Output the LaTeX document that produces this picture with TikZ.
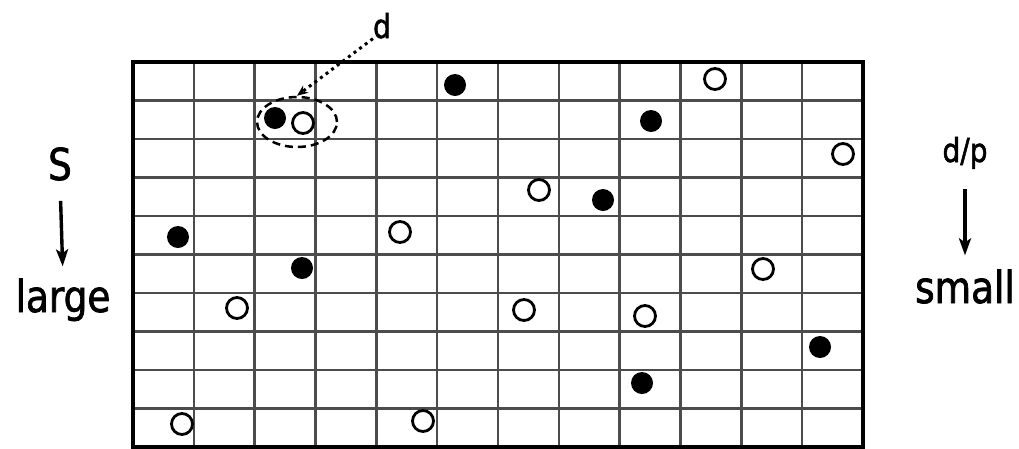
\documentclass[tikz,border=0pt]{standalone}
\usepackage{fontspec}
\usepackage{tikz}
\usetikzlibrary{shapes.geometric, arrows.meta, positioning}
\newfontfamily\lblfont[FakeStretch=0.85, FakeBold=1.6]{DejaVu Sans}
\tikzset{
  gridline/.style={draw=black!70, line width=2.6pt},
  border/.style={draw=black, line width=3.2pt},
  fulldot/.style={circle, fill=black, minimum size=22pt, inner sep=0pt},
  opendot/.style={circle, draw=black, line width=2.8pt, fill=white, minimum size=21pt, inner sep=0pt},
  lbl/.style={font=\lblfont\fontsize{44}{48}\selectfont, inner sep=0pt},
  smalllbl/.style={font=\lblfont\fontsize{33}{36}\selectfont, inner sep=0pt},
  downarrow/.style={-{Stealth[length=17pt,width=12pt,inset=4pt]}, line width=3.4pt},
}

\begin{document}
\begin{tikzpicture}[x=1pt, y=-1pt]
  \useasboundingbox (0,0) rectangle (1019,448);

  % grid of cells
  \foreach \i in {0,...,12}
    \draw[gridline] ({133+\i*60.833},62) -- ({133+\i*60.833},447);
  \foreach \j in {0,...,10}
    \draw[gridline] (133,{62+\j*38.5}) -- (863,{62+\j*38.5});
  \draw[border] (133,62) rectangle (863,447);

  % particles
  \foreach \px/\py [count=\k] in {455/85, 275/118, 651/121, 603/200, 178/237, 302/268, 820/347, 642/383}
    \node[fulldot] (full\k) at (\px,\py) {};
  \foreach \px/\py [count=\k] in {303/123, 715/79, 843/154, 539/190, 400/232, 763/269, 237/308, 524/310, 645/316, 182/424, 423/421}
    \node[opendot] (open\k) at (\px,\py) {};

  % close pair
  \node[ellipse, draw, line width=2.5pt, dash pattern=on 8pt off 5pt, minimum width=80pt, minimum height=50pt, inner sep=0pt] (pair) at (297,122) {};
  \node[smalllbl, anchor=base] (dtop) at (382,38) {d};
  \draw[line width=3pt, dash pattern=on 3pt off 4pt, -{Stealth[length=11pt,width=9pt]}] (dtop.south west) -- (pair.north);

  % side labels
  \node[lbl, anchor=base] (sval) at (60,180) {S};
  \node[lbl, anchor=base] (large) at (63,312) {large};
  \draw[downarrow, shorten <=20pt, shorten >=12pt] (sval.south) -- (large.north);

  \node[smalllbl, anchor=base] (ratio) at (965,162) {d/p};
  \node[lbl, anchor=base] (small) at (965,303) {small};
  \draw[downarrow, shorten <=20pt, shorten >=14pt] (ratio.south) -- (small.north);
\end{tikzpicture}
\end{document}
